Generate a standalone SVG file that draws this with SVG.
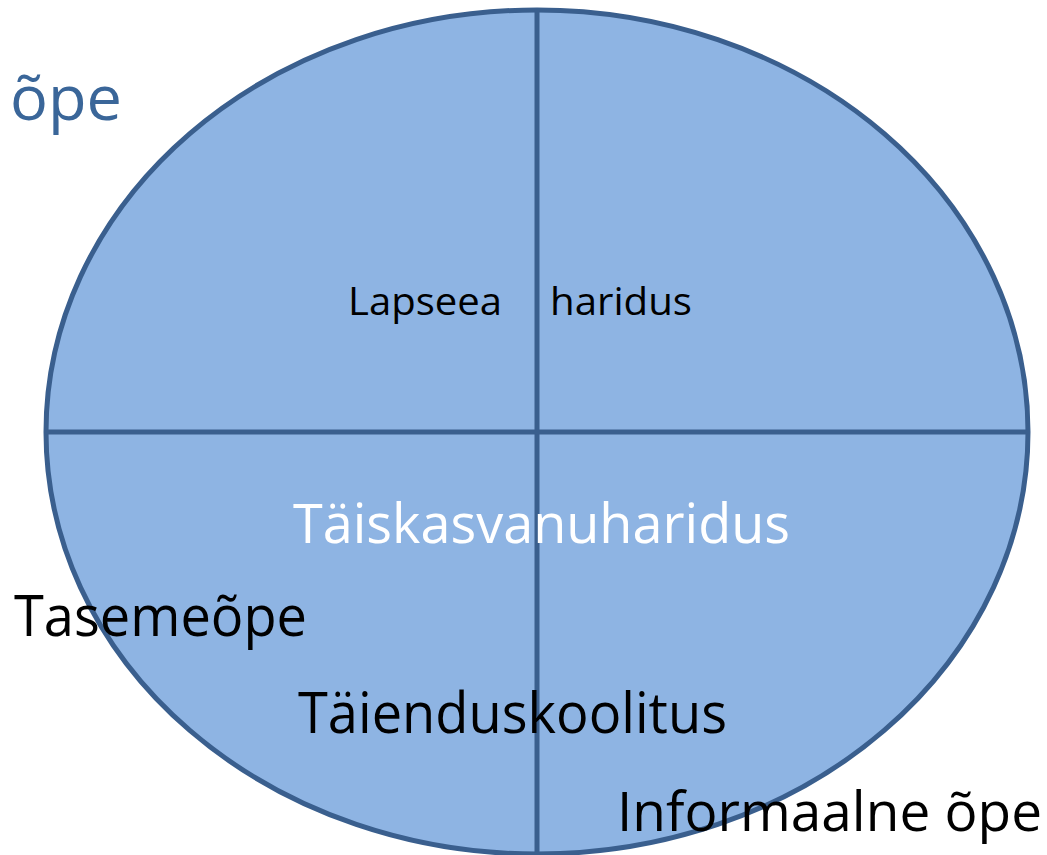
<svg xmlns="http://www.w3.org/2000/svg" width="1047" height="855" viewBox="0 0 1047 855">
<style>
.t{font-family:"Open Sans","Liberation Sans",sans-serif;}
.blk{fill:#000000;}
.wht{fill:#FFFFFF;}
.blu{fill:#3A6699;}
.ln{stroke:#3A5F8E;stroke-width:5;fill:none;}
</style>
<rect width="1047" height="855" fill="#FFFFFF"/>
<g id="ellipse">
<ellipse cx="537" cy="432" rx="491" ry="422" fill="#8EB4E3" stroke="#3A5F8E" stroke-width="5"/>
</g>
<g id="connectors">
<line class="ln" x1="537" y1="10" x2="537" y2="854"/>
<line class="ln" x1="46" y1="432" x2="1028" y2="432"/>
</g>
<g id="label-ope-top">
<text class="t blu" x="10" y="120" font-size="62" textLength="112" lengthAdjust="spacingAndGlyphs">õpe</text>
</g>
<g id="label-lapseea">
<text class="t blk" x="348" y="315" font-size="39" textLength="154" lengthAdjust="spacingAndGlyphs">Lapseea</text>
</g>
<g id="label-haridus">
<text class="t blk" x="550" y="315" font-size="39" textLength="142" lengthAdjust="spacingAndGlyphs">haridus</text>
</g>
<g id="label-taiskasvanuharidus">
<text class="t wht" x="293" y="543" font-size="54" textLength="497" lengthAdjust="spacingAndGlyphs">Täiskasvanuharidus</text>
</g>
<g id="label-tasemeope">
<text class="t blk" x="14" y="636" font-size="56" textLength="293" lengthAdjust="spacingAndGlyphs">Tasemeõpe</text>
</g>
<g id="label-taienduskoolitus">
<text class="t blk" x="298" y="733" font-size="56" textLength="429" lengthAdjust="spacingAndGlyphs">Täienduskoolitus</text>
</g>
<g id="label-informaalne">
<text class="t blk" x="617" y="831" font-size="54" textLength="425" lengthAdjust="spacingAndGlyphs">Informaalne õpe</text>
</g>
</svg>
